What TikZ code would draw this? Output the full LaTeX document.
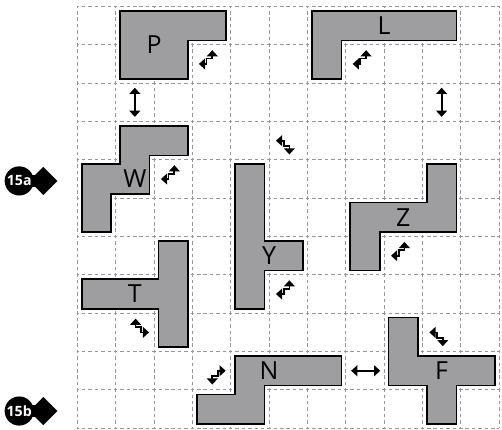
\documentclass[tikz,border=0pt]{standalone}
\usepackage{fontspec}
\setmainfont{Open Sans}
\usetikzlibrary{arrows.meta}
\definecolor{gridgray}{RGB}{150,150,150}
\definecolor{piecegray}{RGB}{158,158,160}
\tikzset{
  gridline/.style={draw=gridgray, line width=0.7pt, dash pattern=on 2.6pt off 2.1421pt, dash phase=1.3pt},
  piece/.style={draw=black, fill=piecegray, line width=1.2pt, line join=miter},
  plabel/.style={font=\fontsize{18.5}{18.5}\selectfont, inner sep=0pt},
  dblarrow/.style={line width=1.3pt, {Triangle[length=4.6pt,width=8pt]}-{Triangle[length=4.6pt,width=8pt]}},
  rotarrow/.pic={\draw[dblarrow] (0,0) -- (0.2,0) -- (0.2,0.14) -- (0.35,0.14) -- (0.35,0.36);},
  markertext/.style={text=white, font=\fontsize{10.5}{10.5}\selectfont\bfseries, inner sep=0pt}
}
\begin{document}
\begin{tikzpicture}
\useasboundingbox (-2.016,-0.044) rectangle (11.074,11.168);
% grid
\foreach \i in {0,...,11} {
  \draw[gridline] (\i,0) -- (\i,11);
  \draw[gridline] (0,\i) -- (11,\i);
}
% pieces
\draw[piece] (1.115,10.885) -- (3.885,10.885) -- (3.885,10.115) -- (2.885,10.115) -- (2.885,9.115) -- (1.115,9.115) -- cycle;
\draw[piece] (6.115,10.885) -- (9.885,10.885) -- (9.885,10.115) -- (6.885,10.115) -- (6.885,9.115) -- (6.115,9.115) -- cycle;
\draw[piece] (1.115,7.885) -- (2.885,7.885) -- (2.885,7.115) -- (1.885,7.115) -- (1.885,6.115) -- (0.885,6.115) -- (0.885,5.115) -- (0.115,5.115) -- (0.115,6.885) -- (1.115,6.885) -- cycle;
\draw[piece] (4.115,6.885) -- (4.885,6.885) -- (4.885,4.885) -- (5.885,4.885) -- (5.885,4.115) -- (4.885,4.115) -- (4.885,3.115) -- (4.115,3.115) -- cycle;
\draw[piece] (9.115,6.885) -- (9.885,6.885) -- (9.885,5.115) -- (7.885,5.115) -- (7.885,4.115) -- (7.115,4.115) -- (7.115,5.885) -- (9.115,5.885) -- cycle;
\draw[piece] (2.115,4.885) -- (2.885,4.885) -- (2.885,2.115) -- (2.115,2.115) -- (2.115,3.115) -- (0.115,3.115) -- (0.115,3.885) -- (2.115,3.885) -- cycle;
\draw[piece] (4.115,1.885) -- (6.885,1.885) -- (6.885,1.115) -- (4.885,1.115) -- (4.885,0.115) -- (3.115,0.115) -- (3.115,0.885) -- (4.115,0.885) -- cycle;
\draw[piece] (8.115,2.885) -- (8.885,2.885) -- (8.885,1.885) -- (10.885,1.885) -- (10.885,1.115) -- (9.885,1.115) -- (9.885,0.115) -- (9.115,0.115) -- (9.115,1.115) -- (8.115,1.115) -- cycle;
% labels
\node[plabel] (lP) at (2,10) {P};
\node[plabel] (lL) at (8,10.5) {L};
\node[plabel] (lW) at (1.5,6.5) {W};
\node[plabel] (lY) at (5,4.5) {Y};
\node[plabel] (lZ) at (8.5,5.5) {Z};
\node[plabel] (lT) at (1.5,3.5) {T};
\node[plabel] (lN) at (5,1.5) {N};
\node[plabel] (lF) at (9.5,1.5) {F};
% rotation icons
\pic at (3.17,9.5) {rotarrow};
\pic at (7.18,9.5) {rotarrow};
\pic at (2.18,6.5) {rotarrow};
\pic at (8.18,4.5) {rotarrow};
\pic at (5.18,3.5) {rotarrow};
\pic[yscale=-1] at (5.18,7.5) {rotarrow};
\pic[yscale=-1] at (9.18,2.5) {rotarrow};
\pic[xscale=-1] at (1.87,2.5) {rotarrow};
\pic[xscale=-1,yscale=-1] at (3.87,1.5) {rotarrow};
% straight double arrows
\draw[dblarrow] (1.5,8.12) -- (1.5,8.88);
\draw[dblarrow] (9.5,8.12) -- (9.5,8.88);
\draw[dblarrow] (7.14,1.5) -- (7.9,1.5);
% markers
\foreach \y/\t in {6.45/15a, 0.45/15b} {
  \fill (-1.515,\y) circle (0.38);
  \fill (-1.515,\y-0.16) rectangle (-1.0,\y+0.16);
  \fill (-0.52,\y) -- (-0.887,\y+0.367) -- (-1.254,\y) -- (-0.887,\y-0.367) -- cycle;
  \node[markertext] at (-1.515,\y) {\t};
}
\end{tikzpicture}
\end{document}
